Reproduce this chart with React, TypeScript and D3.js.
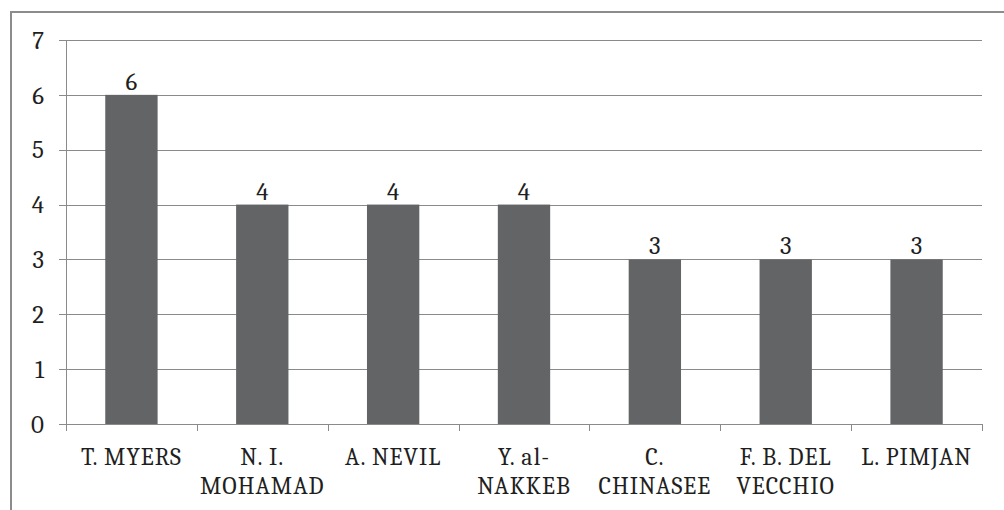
import React from "react";
import * as d3 from "d3";

// Publication counts per author
const authors: string[][] = [
  ["T. MYERS"],
  ["N. I.", "MOHAMAD"],
  ["A. NEVIL"],
  ["Y. al-", "NAKKEB"],
  ["C.", "CHINASEE"],
  ["F. B. DEL", "VECCHIO"],
  ["L. PIMJAN"],
];
const counts: number[] = [6, 4, 4, 4, 3, 3, 3];
const yTicks: number[] = [0, 1, 2, 3, 4, 5, 6, 7];

const W = 1004;
const H = 510;
const plot = { left: 66, right: 982, top: 40, bottom: 424 };
const FONT =
  "Cambria, 'Noto Serif', 'Liberation Serif', 'DejaVu Serif', 'Times New Roman', Times, Georgia, serif";
const GRID = "#8a8a8a";
const BAR = "#636466";
const TEXT = "#1f1f1f";

export default function App() {
  const keys = authors.map((_, i) => String(i));
  const x = d3
    .scaleBand<string>()
    .domain(keys)
    .range([plot.left, plot.right])
    .paddingInner(0)
    .paddingOuter(0);
  const y = d3.scaleLinear().domain([0, 7]).range([plot.bottom, plot.top]);
  const bw = x.bandwidth() / 2.5;

  const boundaries = d3.range(authors.length + 1).map((i) => plot.left + i * x.step());
  const numStyle = { fontFamily: FONT, fontSize: 25, fill: TEXT } as const;
  const catStyle = { fontFamily: FONT, fontSize: 24, fill: TEXT, letterSpacing: "1px" } as const;

  return (
    <svg
      width={W}
      height={H}
      style={{ position: "absolute", left: 0, top: 0, background: "#fff" }}
    >
      <rect x={0} y={0} width={W} height={H} fill="#fff" />
      {/* outer chart frame */}
      <rect x={11} y={12} width={W + 20} height={H + 20} fill="none" stroke="#8c8c8c" strokeWidth={2} />

      {/* horizontal gridlines with left tick marks */}
      {yTicks.map((t) => (
        <line
          key={"g" + t}
          x1={plot.left - 7}
          x2={plot.right}
          y1={Math.round(y(t)) + 0.5}
          y2={Math.round(y(t)) + 0.5}
          stroke={GRID}
          strokeWidth={1}
        />
      ))}
      {/* y axis line */}
      <line x1={plot.left + 0.5} x2={plot.left + 0.5} y1={plot.top} y2={plot.bottom} stroke={GRID} />
      {/* category boundary ticks */}
      {boundaries.map((bx, i) => (
        <line
          key={"b" + i}
          x1={Math.round(bx) + 0.5}
          x2={Math.round(bx) + 0.5}
          y1={plot.bottom}
          y2={plot.bottom + 7}
          stroke={GRID}
        />
      ))}

      {/* y tick labels */}
      {yTicks.map((t) => (
        <text key={"t" + t} x={44} y={y(t)} dy="0.35em" textAnchor="end" style={numStyle}>
          {t}
        </text>
      ))}

      {/* bars */}
      {counts.map((v, i) => {
        const cx = (x(String(i)) as number) + x.bandwidth() / 2;
        return (
          <g key={"bar" + i}>
            <rect x={cx - bw / 2} y={y(v)} width={bw} height={y(0) - y(v)} fill={BAR} />
            <text x={cx} y={y(v) - 5} textAnchor="middle" style={numStyle}>
              {v}
            </text>
          </g>
        );
      })}

      {/* category labels */}
      {authors.map((lines, i) => {
        const cx = (x(String(i)) as number) + x.bandwidth() / 2;
        return (
          <text key={"c" + i} textAnchor="middle" style={catStyle}>
            {lines.map((ln, j) => (
              <tspan key={j} x={cx} y={465 + j * 29}>
                {ln}
              </tspan>
            ))}
          </text>
        );
      })}
    </svg>
  );
}
